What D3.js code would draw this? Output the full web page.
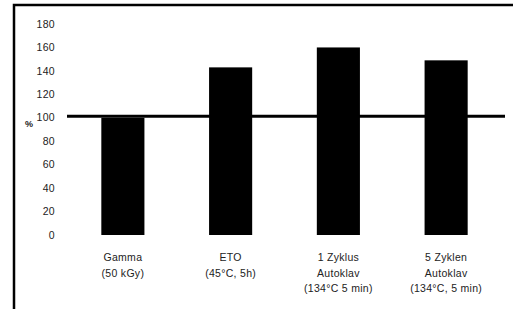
<!DOCTYPE html>
<html lang="de">
<meta charset='utf-8'>
<style>
  body{ margin:0; background:#fff }
  text{ font-family:'Liberation Sans', Arial, sans-serif; font-size:10.5px; fill:#222; letter-spacing:0.3px }
  .frame{ stroke:#000; stroke-width:2.5px; fill:none }
  .refline{ stroke:#000; stroke-width:3px }
</style>
<body>
<script src='https://cdn.jsdelivr.net/npm/d3@7'></script>
<script>
  var categories = [
    ['Gamma', '(50 kGy)'],
    ['ETO', '(45°C, 5h)'],
    ['1 Zyklus', 'Autoklav', '(134°C 5 min)'],
    ['5 Zyklen', 'Autoklav', '(134°C, 5 min)']
  ]
  var values = [100, 143, 160, 149]
  var yTicks = [0, 20, 40, 60, 80, 100, 120, 140, 160, 180]
  var refValue = 100

  var svg = d3.select('body').append('svg').attr('width', 513).attr('height', 309)

  // frame (top + left edges of the chart area)
  svg.append('path').attr('class', 'frame').attr('d', 'M14,309V5H513')

  var x = d3.scaleBand().domain(d3.range(categories.length))
    .range([69, 500]).paddingInner(0.6).paddingOuter(0.3)
  var y = d3.scaleLinear().domain([0, 180]).range([235, 24])

  // y tick labels
  svg.append('g').selectAll('text').data(yTicks).join('text')
    .attr('x', 55).attr('y', d => y(d)).attr('dy', '0.35em')
    .attr('text-anchor', 'end').text(d => d)

  svg.append('text').attr('x', 25).attr('y', 127).style('font-weight', 'bold').style('font-size', '9px').text('%')

  // bars
  svg.append('g').selectAll('rect').data(values).join('rect')
    .attr('x', (d, i) => x(i)).attr('width', x.bandwidth())
    .attr('y', d => y(d)).attr('height', d => y(0) - y(d))
    .attr('fill', '#000')

  // reference line at 100%
  svg.append('line').attr('class', 'refline')
    .attr('x1', x.range()[0] - 2).attr('x2', x.range()[1] + 5)
    .attr('y1', y(refValue) - 1.5).attr('y2', y(refValue) - 1.5)

  // category labels
  var lab = svg.append('g').selectAll('text').data(categories).join('text')
    .attr('text-anchor', 'middle')
    .attr('transform', (d, i) => 'translate(' + (x(i) + x.bandwidth() / 2) + ',261)')
  lab.selectAll('tspan').data(d => d).join('tspan')
    .attr('x', 0).attr('dy', (d, i) => i ? 15.5 : 0).text(d => d)
</script>
</body>
</html>
